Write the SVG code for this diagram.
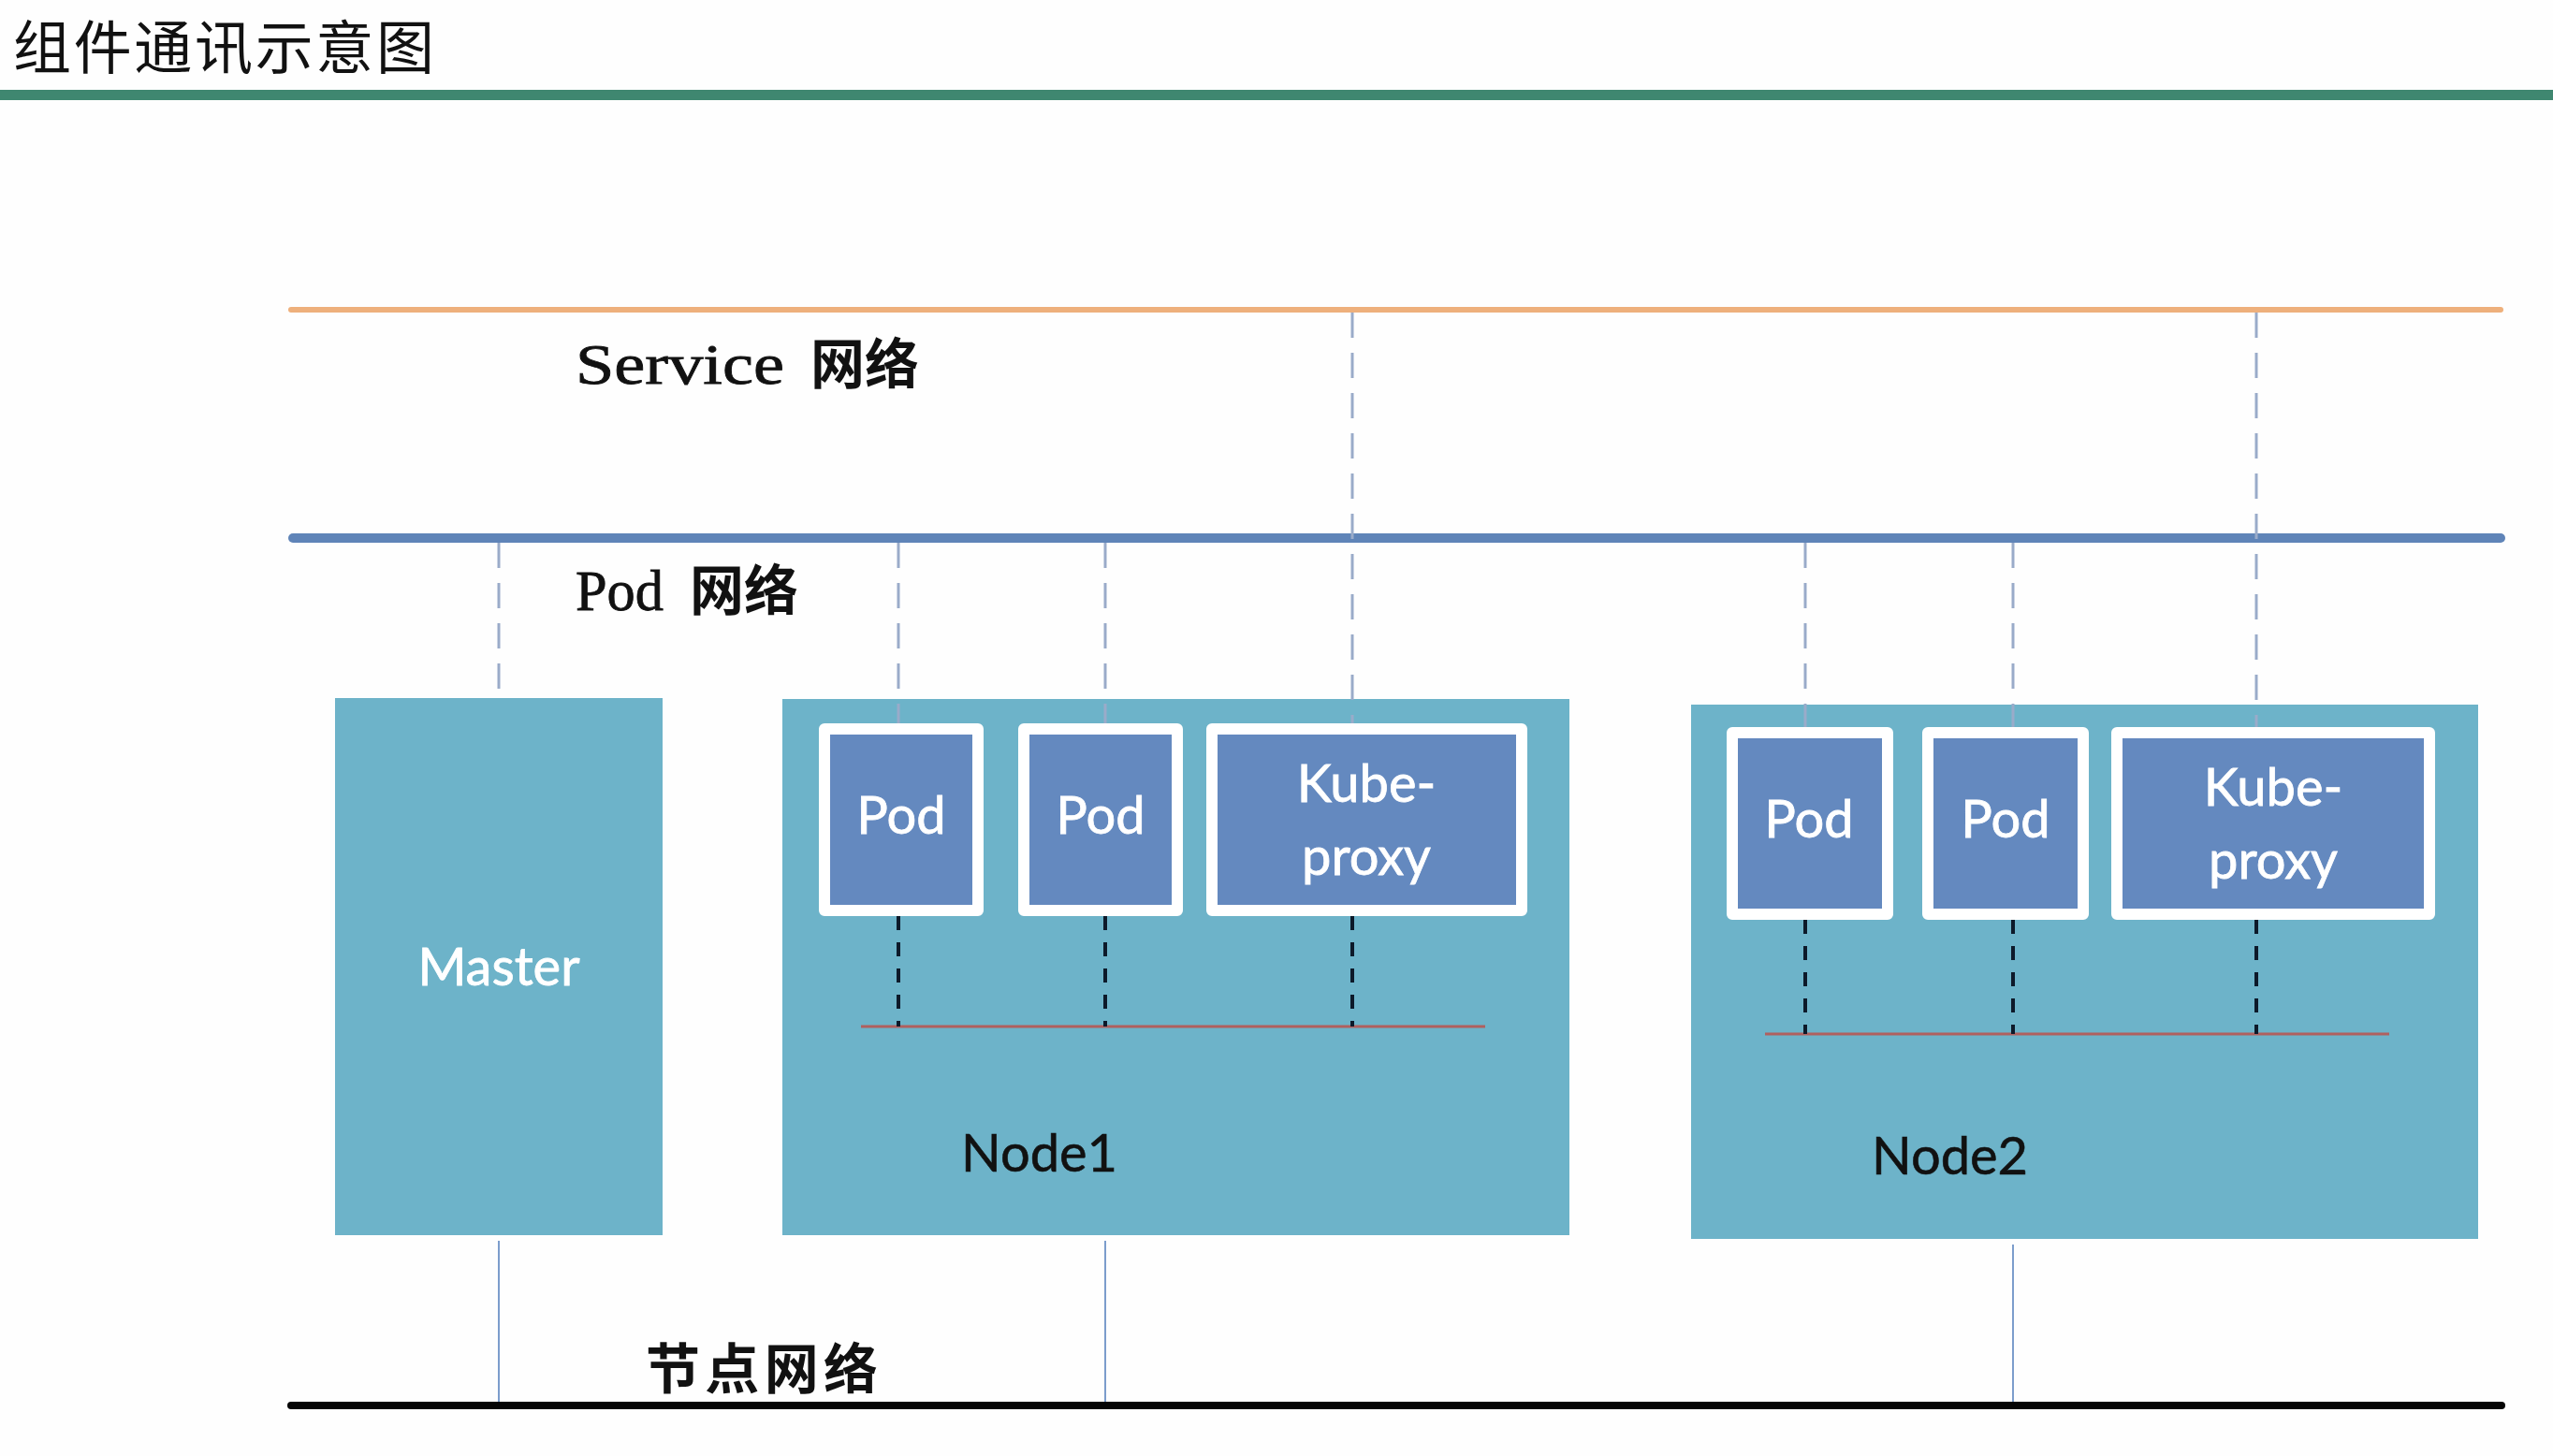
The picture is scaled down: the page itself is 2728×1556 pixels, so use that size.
<svg xmlns="http://www.w3.org/2000/svg" width="2728" height="1556" viewBox="0 0 2728 1556">
<style>
.box{fill:#6db3c9}
.pod{fill:#6489bf;stroke:#ffffff;stroke-width:12;stroke-linejoin:round}
.wt{font-family:Lato,"Open Sans","Liberation Sans",sans-serif;font-size:56px;fill:#ffffff;text-anchor:middle;stroke:#ffffff;stroke-width:0.8}
.bt{font-family:Lato,"Open Sans","Liberation Sans",sans-serif;font-size:56px;fill:#111111;stroke:#111111;stroke-width:0.6}
.lbl{font-family:"Liberation Serif","Noto Sans CJK SC",serif;font-size:62px;fill:#111111;stroke:#111111;stroke-width:0.8}
.cjk{font-family:"Noto Sans CJK SC",sans-serif;font-weight:bold;font-size:58px;fill:#111111}
.gdash{stroke:#9aabc9;stroke-width:3;stroke-dasharray:27 16;fill:none}
.kdash{stroke:#0d1a2a;stroke-width:4;stroke-dasharray:15 13;fill:none}
.solid{stroke:#7c9dcc;stroke-width:2;fill:none}
.red{stroke:#b0605f;stroke-width:3;fill:none}
</style>
<rect x="0" y="0" width="2728" height="1556" fill="#fefefe"/>
<g id="title">
<text x="14" y="74" font-family="Noto Sans CJK SC,sans-serif" font-size="62" fill="#111111" textLength="450">组件通讯示意图</text>
<rect x="0" y="96" width="2728" height="11" fill="#3f8770"/>
</g>
<g id="networks">
<line x1="311" y1="331" x2="2672" y2="331" stroke="#eeb07c" stroke-width="6" stroke-linecap="round"/>
<line x1="313" y1="575" x2="2672" y2="575" stroke="#5f84b8" stroke-width="10" stroke-linecap="round"/>
<line x1="311" y1="1502" x2="2673" y2="1502" stroke="#050505" stroke-width="8" stroke-linecap="round"/>
<text class="lbl" x="615" y="410" textLength="223" lengthAdjust="spacingAndGlyphs">Service</text>
<text class="cjk" x="866" y="410">网络</text>
<text class="lbl" x="615" y="652" textLength="94" lengthAdjust="spacingAndGlyphs">Pod</text>
<text class="cjk" x="737" y="652">网络</text>
<text class="cjk" x="690" y="1484" font-size="60" textLength="248">节点网络</text>
</g>
<g id="master">
<rect class="box" x="358" y="746" width="350" height="574"/>
<text class="wt" x="533" y="1053">Master</text>
</g>
<g id="node1">
<rect class="box" x="836" y="747" width="841" height="573"/>
<text class="bt" x="1027" y="1252">Node1</text>
<line class="red" x1="920" y1="1097" x2="1587" y2="1097"/>
</g>
<g id="node1-pod1">
<rect class="pod" x="881" y="779" width="164" height="194"/>
<text class="wt" x="963" y="891">Pod</text>
</g>
<g id="node1-pod2">
<rect class="pod" x="1094" y="779" width="164" height="194"/>
<text class="wt" x="1176" y="891">Pod</text>
</g>
<g id="node1-kubeproxy">
<rect class="pod" x="1295" y="779" width="331" height="194"/>
<text class="wt" x="1460" y="857">Kube-</text>
<text class="wt" x="1460" y="935">proxy</text>
</g>
<g id="node2">
<rect class="box" x="1807" y="753" width="841" height="571"/>
<text class="bt" x="2000" y="1255">Node2</text>
<line class="red" x1="1886" y1="1105" x2="2553" y2="1105"/>
</g>
<g id="node2-pod1">
<rect class="pod" x="1851" y="783" width="166" height="194"/>
<text class="wt" x="1933" y="895">Pod</text>
</g>
<g id="node2-pod2">
<rect class="pod" x="2060" y="783" width="166" height="194"/>
<text class="wt" x="2143" y="895">Pod</text>
</g>
<g id="node2-kubeproxy">
<rect class="pod" x="2262" y="783" width="334" height="194"/>
<text class="wt" x="2429" y="861">Kube-</text>
<text class="wt" x="2429" y="939">proxy</text>
</g>
<g id="connectors">
<line class="gdash" x1="533" y1="580" x2="533" y2="746"/>
<line class="gdash" x1="960" y1="580" x2="960" y2="773"/>
<line class="gdash" x1="1181" y1="580" x2="1181" y2="773"/>
<line class="gdash" x1="1445" y1="334" x2="1445" y2="773"/>
<line class="gdash" x1="1929" y1="580" x2="1929" y2="777"/>
<line class="gdash" x1="2151" y1="580" x2="2151" y2="777"/>
<line class="gdash" x1="2411" y1="334" x2="2411" y2="777"/>
<line class="kdash" x1="960" y1="979" x2="960" y2="1097"/>
<line class="kdash" x1="1181" y1="979" x2="1181" y2="1097"/>
<line class="kdash" x1="1445" y1="979" x2="1445" y2="1097"/>
<line class="kdash" x1="1929" y1="983" x2="1929" y2="1105"/>
<line class="kdash" x1="2151" y1="983" x2="2151" y2="1105"/>
<line class="kdash" x1="2411" y1="983" x2="2411" y2="1105"/>
<line class="solid" x1="533" y1="1326" x2="533" y2="1498"/>
<line class="solid" x1="1181" y1="1326" x2="1181" y2="1498"/>
<line class="solid" x1="2151" y1="1330" x2="2151" y2="1498"/>
</g>
</svg>
